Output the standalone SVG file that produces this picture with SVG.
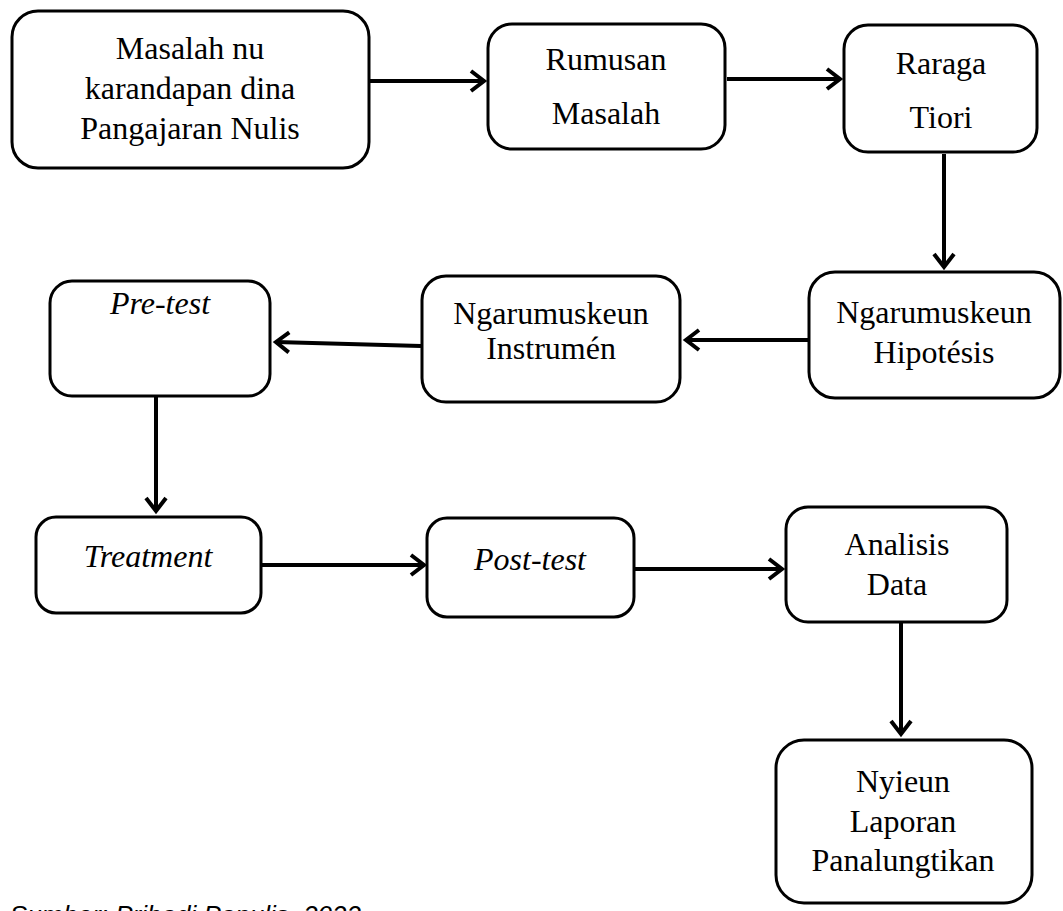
<svg xmlns="http://www.w3.org/2000/svg" width="1063" height="911" viewBox="0 0 1063 911">
<style>
.box{fill:#fff;stroke:#000;stroke-width:3}
.t{font-family:"Liberation Serif","Times New Roman",Times,Tinos,"DejaVu Serif",serif;font-size:32px;fill:#000;text-anchor:middle}
.i{font-style:italic}
.c{stroke:#000;stroke-width:4;fill:none}
.cap{font-family:"Liberation Sans",Arial,sans-serif;font-size:26px;font-style:italic;fill:#000}
</style>
<defs>
<marker id="ah" markerUnits="userSpaceOnUse" markerWidth="22" markerHeight="26" refX="16" refY="13" orient="auto">
<path d="M3,3 L16,13 L3,23" fill="none" stroke="#000" stroke-width="4" stroke-linejoin="miter"/>
</marker>
</defs>
<rect width="1063" height="911" fill="#fff"/>
<g id="connectors">
<line class="c" x1="370" y1="81" x2="484" y2="81" marker-end="url(#ah)"/>
<line class="c" x1="727" y1="79" x2="840" y2="79" marker-end="url(#ah)"/>
<line class="c" x1="944" y1="154" x2="944" y2="267" marker-end="url(#ah)"/>
<line class="c" x1="808" y1="340" x2="686" y2="340" marker-end="url(#ah)"/>
<line class="c" x1="421" y1="346" x2="276" y2="342" marker-end="url(#ah)"/>
<line class="c" x1="156" y1="397" x2="156" y2="511" marker-end="url(#ah)"/>
<line class="c" x1="262" y1="565" x2="424" y2="565" marker-end="url(#ah)"/>
<line class="c" x1="634" y1="569" x2="782" y2="569" marker-end="url(#ah)"/>
<line class="c" x1="901" y1="622" x2="901" y2="734" marker-end="url(#ah)"/>
</g>
<g id="n1">
<rect class="box" x="12" y="11" width="357" height="157" rx="26"/>
<text class="t" x="190" y="59">Masalah nu</text>
<text class="t" x="190" y="99">karandapan dina</text>
<text class="t" x="190" y="139">Pangajaran Nulis</text>
</g>
<g id="n2">
<rect class="box" x="488" y="24" width="237" height="125" rx="24"/>
<text class="t" x="606" y="70">Rumusan</text>
<text class="t" x="606" y="124">Masalah</text>
</g>
<g id="n3">
<rect class="box" x="844" y="25" width="193" height="127" rx="24"/>
<text class="t" x="941" y="74">Raraga</text>
<text class="t" x="941" y="128">Tiori</text>
</g>
<g id="n4">
<rect class="box" x="809" y="272" width="251" height="126" rx="26"/>
<text class="t" x="934" y="323">Ngarumuskeun</text>
<text class="t" x="934" y="363">Hipotésis</text>
</g>
<g id="n5">
<rect class="box" x="422" y="276" width="258" height="126" rx="24"/>
<text class="t" x="551" y="324">Ngarumuskeun</text>
<text class="t" x="551" y="359">Instrumén</text>
</g>
<g id="n6">
<rect class="box" x="50" y="281" width="220" height="115" rx="22"/>
<text class="t i" x="160" y="314">Pre-test</text>
</g>
<g id="n7">
<rect class="box" x="36" y="517" width="225" height="96" rx="20"/>
<text class="t i" x="148" y="567">Treatment</text>
</g>
<g id="n8">
<rect class="box" x="427" y="518" width="207" height="99" rx="20"/>
<text class="t i" x="530" y="570">Post-test</text>
</g>
<g id="n9">
<rect class="box" x="786" y="507" width="221" height="115" rx="22"/>
<text class="t" x="897" y="555">Analisis</text>
<text class="t" x="897" y="595">Data</text>
</g>
<g id="n10">
<rect class="box" x="776" y="740" width="256" height="163" rx="28"/>
<text class="t" x="903" y="792">Nyieun</text>
<text class="t" x="903" y="832">Laporan</text>
<text class="t" x="903" y="871">Panalungtikan</text>
</g>
<text class="cap" x="361" y="924" text-anchor="end">Sumber: Pribadi Panulis, 2022</text>
</svg>
